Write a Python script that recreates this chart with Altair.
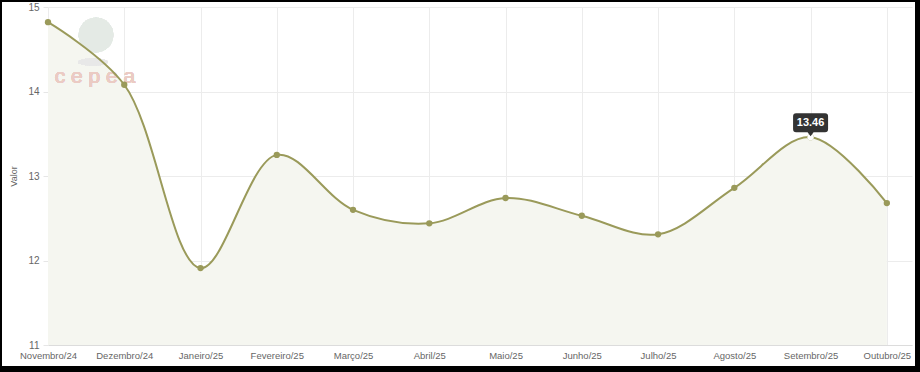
import altair as alt
import pandas as pd

months = ["Novembro/24", "Dezembro/24", "Janeiro/25", "Fevereiro/25", "Março/25", "Abril/25",
          "Maio/25", "Junho/25", "Julho/25", "Agosto/25", "Setembro/25", "Outubro/25"]
values = [14.82, 14.08, 11.91, 13.25, 12.60, 12.44, 12.74, 12.53, 12.31, 12.86, 13.46, 12.68]
highlight_index = 10
y_ticks = [11, 12, 13, 14, 15]

df = pd.DataFrame({"idx": list(range(len(months))), "mes": months, "valor": values})
hl = df[df["idx"] == highlight_index].copy()
hl["label"] = hl["valor"].map(lambda v: f"{v:.2f}")

label_expr = "[" + ",".join(f"'{m}'" for m in months) + "][datum.value]"

OLIVE = "#9a9a5a"

x_enc = alt.X("idx:Q",
              scale=alt.Scale(domain=[0, 11.33], nice=False, zero=False),
              axis=alt.Axis(values=list(range(len(months))), labelExpr=label_expr,
                            title=None, grid=True, gridColor="#ececec", ticks=False,
                            domainColor="#dcdcdc", labelColor="#666666", labelFontSize=9.5,
                            labelPadding=5, labelFont="Liberation Sans", labelOverlap=False,
                            labelFlush=False))
y_enc = alt.Y("valor:Q",
              scale=alt.Scale(domain=[11, 15], nice=False, zero=False),
              axis=alt.Axis(values=y_ticks, format="d", title="Valor", grid=True,
                            gridColor="#ececec", domain=False, tickColor="#e6e6e6", tickSize=5,
                            labelPadding=4, labelColor="#666666", labelFontSize=10,
                            labelFont="Liberation Sans", titleColor="#666666", titleFontSize=9,
                            titleFontWeight="normal", titleFont="Liberation Sans",
                            titlePadding=9))

base = alt.Chart(df)

area = base.mark_area(interpolate="catmull-rom", color="#f5f6f0", opacity=1).encode(
    x=x_enc, y=y_enc, y2=alt.datum(11))
line = base.mark_line(interpolate="catmull-rom", color=OLIVE, strokeWidth=2).encode(
    x="idx:Q", y="valor:Q")
points = base.mark_circle(color=OLIVE, size=40, opacity=1).encode(x="idx:Q", y="valor:Q")

hl_point = alt.Chart(hl).mark_circle(color="white", size=40, opacity=1).encode(
    x="idx:Q", y="valor:Q")
box_path = ("M -0.725 -1.2 L 0.725 -1.2 Q 0.875 -1.2 0.875 -1.05 L 0.875 -0.4 "
            "Q 0.875 -0.25 0.725 -0.25 L 0.15 -0.25 L 0 -0.05 L -0.15 -0.25 L -0.725 -0.25 "
            "Q -0.875 -0.25 -0.875 -0.4 L -0.875 -1.05 Q -0.875 -1.2 -0.725 -1.2 Z")
hl_box = alt.Chart(hl).mark_point(shape=box_path, size=1600, filled=True, color="#333333",
                                  opacity=1).encode(x="idx:Q", y="valor:Q")
hl_text = alt.Chart(hl).mark_text(color="white", fontSize=11, fontWeight="bold",
                                  font="Liberation Sans", dy=-14).encode(
    x="idx:Q", y="valor:Q", text="label:N")

# watermark (decorative)
globe = alt.Chart(df).mark_circle(color="#e3eae5", size=1200, opacity=0.8).encode(
    x=alt.value(48), y=alt.value(28))
shadow = alt.Chart(df).mark_point(shape="M -1 0 A 1 0.25 0 1 0 1 0 A 1 0.25 0 1 0 -1 0 Z",
                                  filled=True, color="#e8e8e8", size=900, opacity=1).encode(
    x=alt.value(45), y=alt.value(55))
logo = alt.Chart(df).mark_text(text="c e p e a", color="#ebcbc4", fontSize=21,
                               font="Liberation Sans").encode(x=alt.value(47), y=alt.value(70))

# outer frame
frame_specs = [(-48, -46, -7, 365), (-48, 872, -7, -5), (867, 872, -7, 365), (-48, 872, 359, 365)]
frames = [alt.Chart(df).mark_rect(color="black").encode(
    x=alt.value(a), x2=alt.value(b), y=alt.value(c), y2=alt.value(d)) for a, b, c, d in frame_specs]

chart = alt.layer(area, shadow, globe, logo, line, points, hl_point, hl_box, hl_text, *frames).properties(
    width=864, height=338,
    autosize=alt.AutoSizeParams(type="none"),
    padding={"left": 48, "top": 7, "right": 8, "bottom": 27},
    background="white",
).configure_view(stroke=None)

chart.save("out.html", embed_options={"renderer": "svg", "actions": False})
